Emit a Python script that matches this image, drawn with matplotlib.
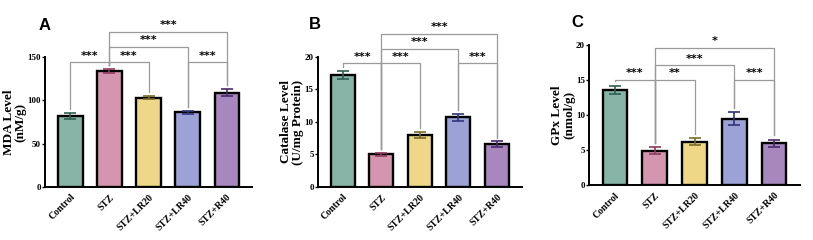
import numpy as np
import matplotlib.pyplot as plt

groups = ["Control", "STZ", "STZ+LR20", "STZ+LR40", "STZ+R40"]

mda = [82, 134, 103, 86, 109]
mda_err = [3, 2, 2, 2, 4]
cat = [17.2, 5.0, 8.0, 10.7, 6.6]
cat_err = [0.6, 0.3, 0.5, 0.6, 0.4]
gpx = [13.6, 4.9, 6.2, 9.5, 6.0]
gpx_err = [0.6, 0.5, 0.5, 0.9, 0.5]

# comparisons: (i, j, stars)
comps_ab = [(0, 1, "***"), (1, 2, "***"), (3, 4, "***"), (1, 3, "***"), (1, 4, "***")]
comps_c = [(0, 1, "***"), (1, 2, "**"), (3, 4, "***"), (1, 3, "***"), (1, 4, "*")]

bar_colors = ["#86b5a8", "#d496ae", "#eed888", "#9ca2d6", "#a887bf"]
err_colors = ["#2f5f50", "#8e3a5e", "#7a6a28", "#2e3478", "#4a2a6a"]

plt.rcParams['font.family'] = ['Liberation Serif', 'DejaVu Serif']

fig = plt.figure(figsize=(8.13, 2.4), dpi=100)

panels = [
    ("A", [0.0554, 0.221, 0.2546, 0.5415], mda, mda_err, 150, 50, "MDA Level\n(nM/g)", comps_ab,
     [144, 144, 144, 161.5, 179], 0.0480, 0.895),
    ("B", [0.391, 0.221, 0.251, 0.5415], cat, cat_err, 20, 5, "Catalase Level\n(U/mg Protein)", comps_ab,
     [19.0, 19.0, 19.0, 21.3, 23.6], 0.380, 0.897),
    ("C", [0.7245, 0.229, 0.2595, 0.5835], gpx, gpx_err, 20, 5, "GPx Level\n(nmol/g)", comps_c,
     [15.0, 15.0, 15.0, 17.1, 19.6], 0.703, 0.907),
]

x = np.arange(len(groups))

for label, rect, vals, errs, ymax, step, ylab, comps, levels, lx, ly in panels:
    ax = fig.add_axes(rect)
    ax.bar(x, vals, width=0.62, color=bar_colors, edgecolor="black", linewidth=1.7, zorder=2)
    for i in range(len(groups)):
        ax.errorbar(x[i], vals[i], yerr=errs[i], color=err_colors[i], capsize=4,
                    elinewidth=1.2, capthick=1.2, zorder=3)
    ax.set_xlim(-0.65, 4.65)
    ax.set_ylim(0, ymax)
    ax.set_yticks(np.arange(0, ymax + 1, step))
    ax.set_xticks(x)
    ax.set_xticklabels(groups, rotation=45, ha="right", rotation_mode="anchor",
                       fontsize=7, fontweight="bold")
    ax.tick_params(axis="x", length=0, pad=4)
    ax.tick_params(axis="y", length=2.5, width=1, labelsize=6.5, pad=0.5)
    for t in ax.get_yticklabels():
        t.set_fontweight("bold")
    ax.spines["top"].set_visible(False)
    ax.spines["right"].set_visible(False)
    ax.spines["left"].set_linewidth(1.4)
    ax.spines["bottom"].set_linewidth(1.4)
    ax.set_ylabel(ylab, fontsize=9.5, fontweight="bold", labelpad=0.5, linespacing=1.0)

    gap = ymax * 0.03
    for (i, j, s), lev in zip(comps, levels):
        yi = vals[i] + errs[i] + gap
        yj = vals[j] + errs[j] + gap
        ax.plot([x[i], x[i], x[j], x[j]], [yi, lev, lev, yj], color="#9a9a9a",
                lw=0.9, clip_on=False, zorder=1)
        ax.text((x[i] + x[j]) / 2, lev + ymax * 0.012, s, ha="center", va="bottom",
                fontsize=8, fontweight="bold", family="DejaVu Sans", clip_on=False)

    fig.text(lx, ly, label, fontsize=12, fontweight="bold",
             family="Liberation Sans", ha="left", va="center")

fig.savefig("out.png", dpi=100)
